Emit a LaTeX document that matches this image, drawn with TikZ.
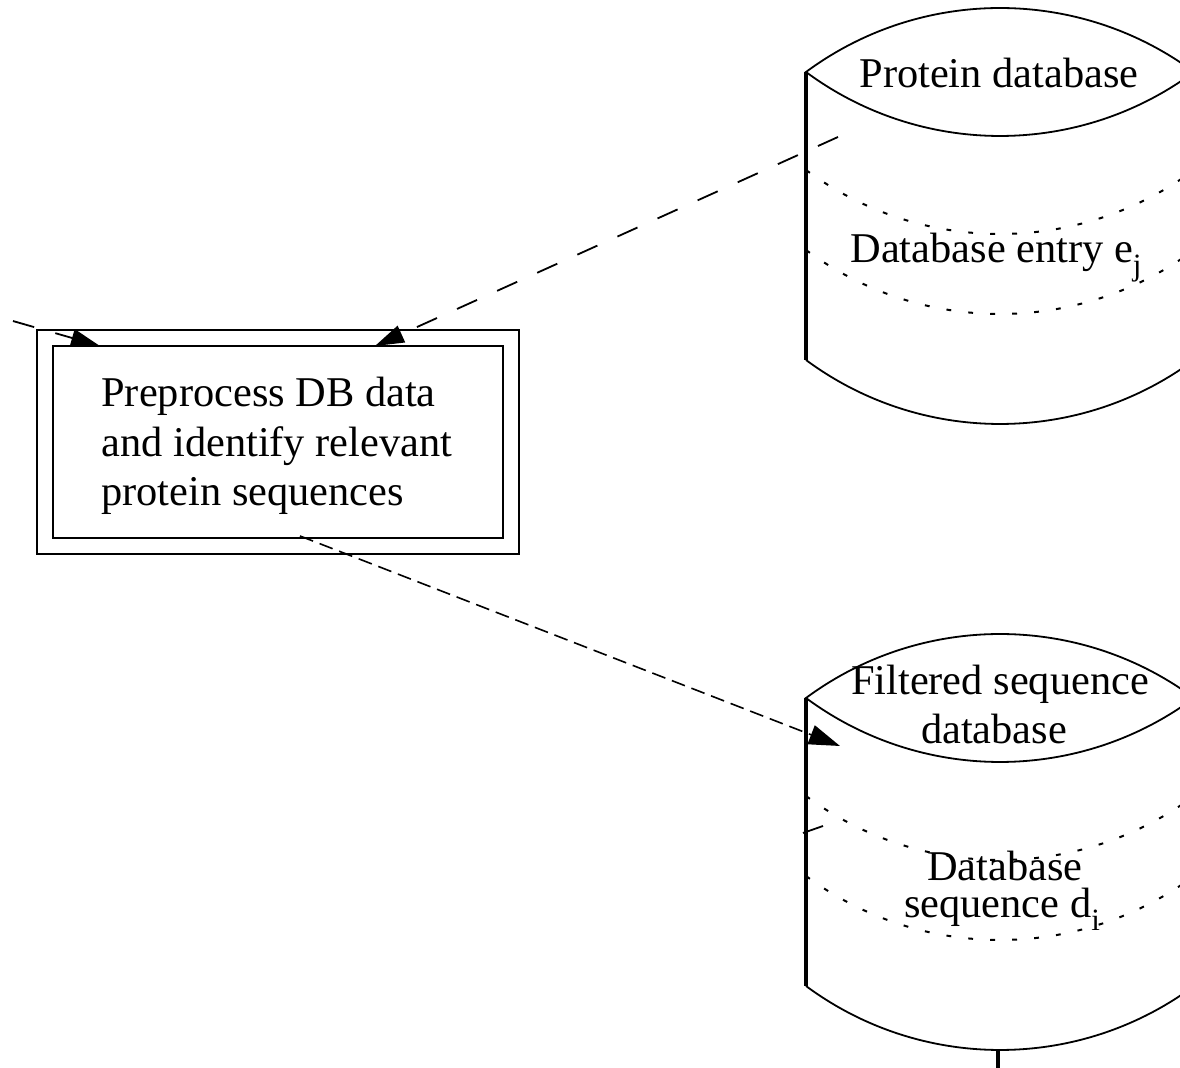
\documentclass[tikz,border=0pt]{standalone}
\usepackage{fontspec}
\setmainfont{Liberation Serif}
\usetikzlibrary{arrows.meta}

\tikzset{
  wall/.style={line width=1.6pt},
  rim/.style={line width=0.9pt},
  band/.style={line width=1pt, dash pattern=on 2.4pt off 8.6pt},
  lbl/.style={font=\fontsize{21.2}{24.5}\selectfont, inner sep=0pt},
  flowlong/.style={line width=0.9pt, dash pattern=on 11pt off 11pt,
    -{Triangle[length=14.5pt,width=9pt]}},
  flowshort/.style={line width=0.8pt, dash pattern=on 7pt off 3.5pt,
    -{Triangle[length=15.5pt,width=10pt]}},
  procbox/.style={draw, double, double distance=7pt, line width=1pt,
    minimum width=233pt, minimum height=104pt, inner sep=0pt},
}

% lowered index letter, as in e_j
\newcommand\idx[1]{\raisebox{-6.5pt}{\fontsize{15.5}{15.5}\selectfont #1}}

% Database drum: lens-shaped top at height #1, two dotted record bands,
% walls and a curved floor.
\newcommand\drawdrum[1]{%
  \draw[rim] (806,#1) .. controls (921.2,#1-85.3) and (1078.8,#1-85.3) .. (1194,#1)
             .. controls (1078.8,#1+85.3) and (921.2,#1+85.3) .. (806,#1) -- cycle;
  \draw[band] (806,#1+98) .. controls (921.2,#1+183.3) and (1078.8,#1+183.3) .. (1194,#1+98);
  \draw[band] (806,#1+178) .. controls (921.2,#1+263.3) and (1078.8,#1+263.3) .. (1194,#1+178);
  \draw[rim] (806,#1+288) .. controls (921.2,#1+373.3) and (1078.8,#1+373.3) .. (1194,#1+288);
  \draw[wall] (806,#1) -- (806,#1+288);
  \draw[wall] (1194,#1) -- (1194,#1+288);
}

\begin{document}
\begin{tikzpicture}[x=0.5pt,y=-0.5pt]
\useasboundingbox (0,0) rectangle (1180,1068);
\clip (0,0) rectangle (1180,1068);

% protein database
\drawdrum{72}
\node[lbl, anchor=base] (pdbname) at (999,88) {Protein database};
\node[lbl, anchor=base] (pdbentry) at (996,263) {Database entry e\idx{j}};

% filtered sequence database
\drawdrum{698}
\node[lbl, anchor=base] (fdbname1) at (1000,695) {Filtered sequence};
\node[lbl, anchor=base] (fdbname2) at (994,744) {database};
\node[lbl, anchor=base] (fdbseq1) at (1005,881) {Database};
\node[lbl, anchor=base] (fdbseq2) at (1002,918) {sequence d\idx{i}};

% preprocessing step
\node[procbox] (prep) at (278,442) {};
\node[lbl, anchor=base west] (prepA) at (101,407) {Preprocess DB data};
\node[lbl, anchor=base west] (prepB) at (101,457) {and identify relevant};
\node[lbl, anchor=base west] (prepC) at (101,506) {protein sequences};

% connector end points
\coordinate (pdbout) at (838,137);
\coordinate (prepinA) at (375,346);
\coordinate (leftsrc) at (-29.3,308.9);
\coordinate (prepinB) at (100,346);
\coordinate (prepout) at (300,536);
\coordinate (fdbin) at (840,746);
\coordinate (fdbstubA) at (803,833);
\coordinate (fdbstubB) at (823,826);
\coordinate (fdbfloor) at (998,1051);
\coordinate (fdbexit) at (998,1090);

% connectors
\draw[flowlong] (pdbout) -- (prepinA);
\draw[flowlong] (leftsrc) -- (prepinB);
\draw[flowshort] (prepout) -- (fdbin);
\draw[line width=0.9pt] (fdbstubA) -- (fdbstubB);
\draw[wall] (fdbfloor) -- (fdbexit);
\end{tikzpicture}
\end{document}
